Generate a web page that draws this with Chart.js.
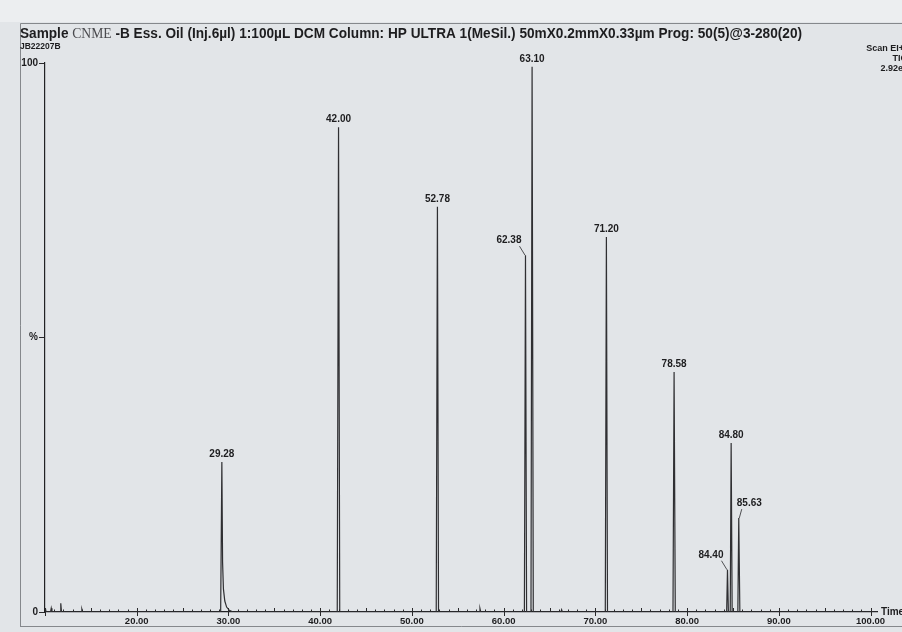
<!DOCTYPE html>
<html>
<head>
<meta charset="utf-8">
<script src="https://cdn.jsdelivr.net/npm/chart.js@4.4.1/dist/chart.umd.min.js"></script>
<style>
  html, body { margin: 0; padding: 0; background: #e2e5e8; }
  #wrap { position: relative; width: 902px; height: 632px; }
  canvas { display: block; }
</style>
</head>
<body>
<div id="wrap"><canvas id="tic" width="902" height="632"></canvas></div>
<script>
// Labelled peaks: retention time (min) and relative abundance (%)
const peakTimes   = [29.28, 42.00, 52.78, 62.38, 63.10, 71.20, 78.58, 84.40, 84.80, 85.63];
const peakHeights = [27.3,  88.3,  73.8,  65.0,  99.3,  68.3,  43.7,  7.7,   30.8,  17.1];

// Rest of the trace: baseline, peak feet, the tail after 29.28 and small noise spikes
const baseTimes  = [10.00, 10.05, 10.12, 10.60, 10.68, 10.76, 11.65, 11.72, 11.80, 13.95, 14.02, 14.10,
                    29.15, 29.36, 29.45, 29.60, 29.80, 30.10, 30.50,
                    41.86, 42.13, 52.65, 52.90, 57.35, 57.42, 57.50,
                    62.26, 62.50, 62.98, 63.23, 66.25, 66.32, 66.40,
                    71.08, 71.32, 78.46, 78.71, 84.31, 84.50, 84.70, 84.91, 85.53, 85.75, 100.70];
const baseSignal = [0,     0.6,   0,     0,     0.7,   0,     0,     1.6,   0,     0,     0.5,   0,
                    0,     9.0,   4.2,   2.0,   0.9,   0.3,   0,
                    0,     0,     0,     0,     0,     0.6,   0,
                    0,     0,     0,     0,     0,     0.4,   0,
                    0,     0,     0,     0,     0,     0,     0,     0,     0,     0,     0];

// Axis labels
const xTickValues = [20, 30, 40, 50, 60, 70, 80, 90, 100];
const yTickText = { 0: '0', 50: '%', 100: '100' };

const titleParts = [
  ['Sample ', 'bold 14px "Liberation Sans", Arial, sans-serif'],
  ['CNME', '14px "Liberation Serif", "Times New Roman", serif'],
  [' -B Ess. Oil (Inj.6\u00b5l) 1:100\u00b5L DCM Column: HP ULTRA 1(MeSil.) 50mX0.2mmX0.33\u00b5m Prog: 50(5)@3-280(20)', 'bold 14px "Liberation Sans", Arial, sans-serif']
];
const sampleId = 'JB22207B';
const scanInfo = ['Scan EI+', 'TIC', '2.92e7'];

// Where a label sits relative to its peak (default: centred above)
const labelSide = { '62.38': 'left', '84.40': 'left', '85.63': 'right' };

// Merge apexes and baseline points into one time-ordered trace
const trace = baseTimes.map((t, i) => ({ x: t, y: baseSignal[i] }))
  .concat(peakTimes.map((t, i) => ({ x: t, y: peakHeights[i] })))
  .sort((a, b) => a.x - b.x);

const INK = '#1d1d1f';
const SANS = '"Liberation Sans", Arial, sans-serif';

const paperPlugin = {
  id: 'paper',
  beforeDraw(chart) {
    const c = chart.ctx;
    c.save();
    c.fillStyle = '#e2e5e8';
    c.fillRect(0, 0, chart.width, chart.height);
    c.fillStyle = '#eceef0';
    c.fillRect(0, 0, chart.width, 22);
    // printed frame
    c.strokeStyle = '#85888c';
    c.lineWidth = 1;
    c.beginPath();
    c.moveTo(20.5, 627); c.lineTo(20.5, 23.5); c.lineTo(902, 23.5);
    c.moveTo(20.5, 626.5); c.lineTo(902, 626.5);
    c.stroke();
    c.restore();
  }
};

const annotPlugin = {
  id: 'annot',
  afterDraw(chart) {
    const c = chart.ctx;
    const xs = chart.scales.x, ys = chart.scales.y;
    const bottom = chart.chartArea.bottom;
    c.save();
    c.fillStyle = INK;
    c.strokeStyle = INK;

    // title line
    let tw = 0;
    titleParts.forEach(([s, f]) => { c.font = f; tw += c.measureText(s).width; });
    const k = 782 / tw;
    c.save();
    c.translate(20, 37.5);
    c.scale(k, 1);
    let tx = 0;
    c.textBaseline = 'alphabetic';
    titleParts.forEach(([s, f], i) => {
      c.font = f;
      c.fillStyle = i === 1 ? '#4a4a4e' : INK;
      c.fillText(s, tx, 0);
      tx += c.measureText(s).width;
    });
    c.restore();

    c.fillStyle = INK;
    c.font = 'bold 8.5px ' + SANS;
    c.textAlign = 'left';
    c.fillText(sampleId, 20, 49);

    c.textAlign = 'right';
    c.font = 'bold 9px ' + SANS;
    c.fillText(scanInfo[0], 904, 51);
    c.fillText(scanInfo[1], 907, 60.5);
    c.fillText(scanInfo[2], 908, 70.5);

    // x-axis minor / major tick marks
    c.lineWidth = 1;
    c.strokeStyle = '#2a2a2c';
    c.beginPath();
    for (let t = 10; t <= 100; t++) {
      const px = Math.round(xs.getPixelForValue(t)) + 0.5;
      if (t % 10 === 0) { c.moveTo(px, bottom - 4); c.lineTo(px, bottom + 4); }
      else if (t % 5 === 0) { c.moveTo(px, bottom - 4); c.lineTo(px, bottom); }
      else { c.moveTo(px, bottom - 2.5); c.lineTo(px, bottom); }
    }
    c.stroke();

    c.textAlign = 'left';
    c.textBaseline = 'middle';
    c.font = 'bold 10px ' + SANS;
    c.fillText('Time', 881, 612);

    // peak labels
    c.font = 'bold 10px ' + SANS;
    c.textBaseline = 'alphabetic';
    c.lineWidth = 0.8;
    peakTimes.forEach((t, i) => {
      const txt = t.toFixed(2);
      const px = xs.getPixelForValue(t);
      const py = ys.getPixelForValue(peakHeights[i]);
      const side = labelSide[txt];
      if (side === 'left') {
        c.textAlign = 'right';
        c.fillText(txt, px - 4, py - 12);
        c.beginPath(); c.moveTo(px - 6, py - 9); c.lineTo(px - 0.5, py); c.stroke();
      } else if (side === 'right') {
        c.textAlign = 'left';
        c.fillText(txt, px - 2, py - 12);
        c.beginPath(); c.moveTo(px + 3, py - 9); c.lineTo(px + 0.5, py); c.stroke();
      } else {
        c.textAlign = 'center';
        c.fillText(txt, px, py - 5);
      }
    });
    c.restore();
  }
};

new Chart(document.getElementById('tic'), {
  type: 'line',
  data: {
    datasets: [{
      data: trace,
      borderColor: '#2f2f32',
      borderWidth: 1.2,
      pointRadius: 0,
      tension: 0,
      fill: false
    }]
  },
  options: {
    responsive: false,
    animation: false,
    events: [],
    layout: { padding: { top: 63, right: 25, left: 0, bottom: 0 } },
    plugins: { legend: { display: false }, tooltip: { enabled: false }, title: { display: false } },
    scales: {
      x: {
        type: 'linear',
        min: 10,
        max: 100.7,
        afterBuildTicks: (s) => { s.ticks = xTickValues.map(v => ({ value: v })); },
        afterFit: (s) => { s.height = 20; },
        grid: { display: false, drawTicks: false },
        border: { display: true, color: '#222224', width: 1.2 },
        ticks: {
          padding: 4,
          maxRotation: 0,
          autoSkip: false,
          color: INK,
          font: { family: SANS, size: 9.5, weight: 'bold' },
          callback: (v) => Number(v).toFixed(2)
        }
      },
      y: {
        min: 0,
        max: 100,
        afterBuildTicks: (s) => { s.ticks = Object.keys(yTickText).map(v => ({ value: Number(v) })); },
        afterFit: (s) => { s.width = 45; },
        grid: { drawOnChartArea: false, drawTicks: true, tickLength: 6, color: '#2a2a2c' },
        border: { display: true, color: '#222224', width: 1.2 },
        ticks: {
          padding: 1,
          color: INK,
          font: { family: SANS, size: 10, weight: 'bold' },
          callback: (v) => yTickText[v]
        }
      }
    }
  },
  plugins: [paperPlugin, annotPlugin]
});
</script>
</body>
</html>
